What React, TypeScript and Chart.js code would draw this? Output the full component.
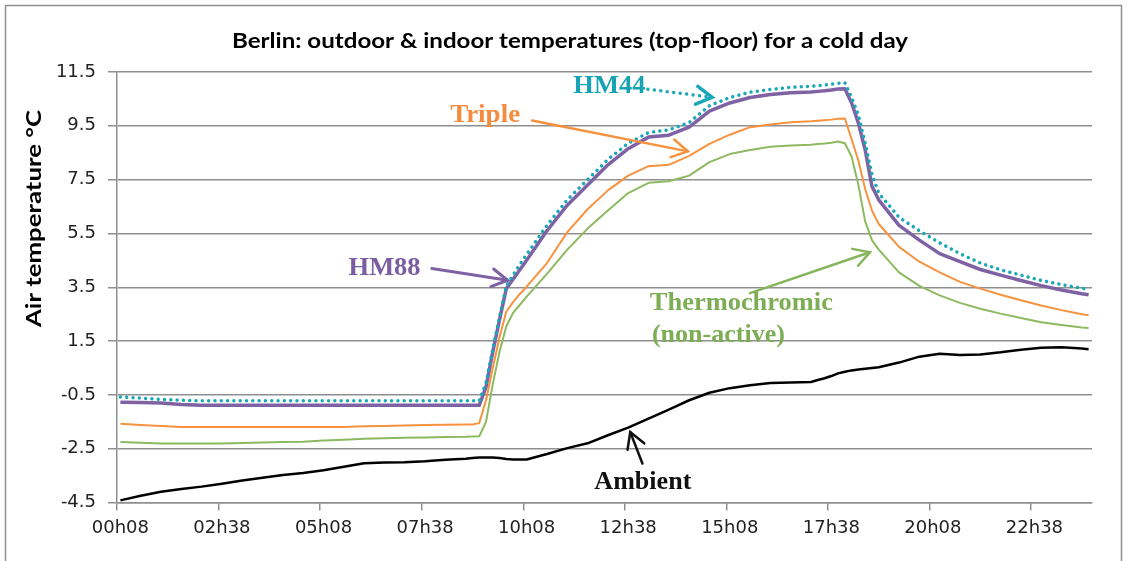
import React, { useEffect, useRef } from 'react';
import { Chart, registerables } from 'chart.js';

Chart.register(...registerables);

// Time of each sample, in minutes after midnight (00h08 = 8)
const timesMin = [
  8, 38, 68, 98, 128, 158, 188, 218, 248, 278, 308, 338, 368, 398, 428, 458, 488, 518,
  528, 538, 548, 558, 568, 578, 588, 598, 608,
  638, 668, 698, 728, 758, 788, 818, 848, 878, 908, 938, 968, 998, 1028,
  1038, 1048, 1058, 1068, 1078, 1088, 1098, 1108, 1118, 1128,
  1158, 1188, 1218, 1248, 1278, 1308, 1338, 1368, 1398, 1428, 1438,
];

const hm44 = [
  -0.58, -0.62, -0.67, -0.7, -0.72, -0.72, -0.72, -0.72, -0.72, -0.72, -0.72, -0.72, -0.72, -0.72, -0.72, -0.72, -0.72, -0.72,
  -0.72, -0.72, -0.05, 1.2, 2.4, 3.55, 3.95, 4.35, 4.72,
  5.8, 6.75, 7.5, 8.25, 8.85, 9.25, 9.35, 9.62, 10.25, 10.55, 10.75, 10.85, 10.93, 10.97,
  10.99, 11.02, 11.05, 11.08, 11.1, 10.55, 9.9, 8.85, 7.7, 7.0,
  6.1, 5.6, 5.15, 4.75, 4.4, 4.15, 3.95, 3.75, 3.6, 3.46, 3.42,
];

const hm88 = [
  -0.77, -0.78, -0.8, -0.86, -0.89, -0.89, -0.89, -0.89, -0.89, -0.89, -0.89, -0.89, -0.89, -0.89, -0.89, -0.89, -0.89, -0.89,
  -0.89, -0.89, -0.2, 1.1, 2.3, 3.45, 3.8, 4.15, 4.5,
  5.6, 6.55, 7.3, 8.05, 8.65, 9.08, 9.15, 9.45, 10.05, 10.35, 10.55, 10.66, 10.73, 10.76,
  10.78, 10.8, 10.83, 10.87, 10.88, 10.35, 9.6, 8.6, 7.25, 6.75,
  5.8, 5.25, 4.75, 4.45, 4.16, 3.95, 3.75, 3.56, 3.4, 3.26, 3.22,
];

const triple = [
  -1.57, -1.62, -1.66, -1.69, -1.69, -1.69, -1.69, -1.69, -1.69, -1.69, -1.69, -1.69, -1.67, -1.66, -1.64, -1.62, -1.61, -1.6,
  -1.6, -1.55, -0.7, 0.5, 1.65, 2.6, 2.95, 3.25, 3.52,
  4.4, 5.55, 6.4, 7.1, 7.65, 8.0, 8.05, 8.38, 8.83, 9.17, 9.45, 9.55, 9.63, 9.67,
  9.69, 9.71, 9.73, 9.76, 9.77, 9.0, 8.2, 7.15, 6.35, 5.85,
  5.0, 4.45, 4.05, 3.7, 3.45, 3.22, 3.02, 2.82, 2.65, 2.5, 2.46,
];

const thermochromic = [
  -2.25, -2.28, -2.31, -2.31, -2.31, -2.31, -2.29, -2.27, -2.25, -2.24, -2.2, -2.17, -2.13, -2.11, -2.09, -2.08, -2.07, -2.06,
  -2.05, -2.04, -1.5, -0.1, 1.1, 2.05, 2.55, 2.85, 3.15,
  4.0, 4.9, 5.68, 6.35, 7.0, 7.38, 7.44, 7.65, 8.15, 8.45, 8.6, 8.72, 8.77, 8.8,
  8.82, 8.84, 8.87, 8.92, 8.85, 8.35, 7.3, 5.95, 5.25, 4.9,
  4.05, 3.55, 3.2, 2.92, 2.7, 2.52, 2.36, 2.2, 2.1, 2.0, 1.99,
];

const ambient = [
  -4.42, -4.25, -4.1, -4.0, -3.91, -3.8, -3.68, -3.58, -3.48, -3.4, -3.3, -3.17, -3.04, -3.01, -3.0, -2.97, -2.91, -2.87,
  -2.85, -2.83, -2.83, -2.83, -2.85, -2.88, -2.9, -2.9, -2.9,
  -2.7, -2.48, -2.3, -2.0, -1.72, -1.38, -1.05, -0.7, -0.42, -0.25, -0.14, -0.06, -0.04, -0.02,
  0.05, 0.12, 0.2, 0.3, 0.36, 0.41, 0.44, 0.47, 0.5, 0.53,
  0.7, 0.92, 1.03, 0.98, 1.0, 1.08, 1.18, 1.25, 1.27, 1.22, 1.2,
];

// Axis ticks
const xTickMinutes = [3, 153, 303, 453, 603, 753, 903, 1053, 1203, 1353];
const xTickLabels = ['00h08', '02h38', '05h08', '07h38', '10h08', '12h38', '15h08', '17h38', '20h08', '22h38'];
const yTicks = [-4.5, -2.5, -0.5, 1.5, 3.5, 5.5, 7.5, 9.5, 11.5];

const chartTitle = 'Berlin: outdoor & indoor temperatures (top-floor) for a cold day';
const yAxisTitle = 'Air temperature \u00B0C';

// Text annotations: anchor (minutes, °C) = left edge / baseline
const annotationTexts = ['HM44', 'Triple', 'HM88', 'Thermochromic', '(non-active)', 'Ambient'];
const annotationMinutes = [677, 495, 345, 790, 793, 708];
const annotationValues = [10.71, 9.64, 3.945, 2.644, 1.455, -3.98];
const annotationWidths = [72, 70, 72, 183, 133, 97];
const annotationColors = ['#17A3B4', '#F58B3E', '#7B5EA1', '#7DAD55', '#7DAD55', '#111111'];

// Arrows: start and tip in (minutes, °C)
const arrowFromMin = [787, 616, 468, 938, 779];
const arrowFromVal = [10.86, 9.7, 4.2, 3.28, -3.05];
const arrowToMin = [882, 846, 580, 1115, 761];
const arrowToVal = [10.56, 8.55, 3.76, 4.8, -1.88];
const arrowColors = ['#1AA8B9', '#F7923F', '#7F62A3', '#86B55B', '#111111'];
const arrowWidths = [3.5, 2.5, 3, 2.5, 2.5];
const arrowDotted = [true, false, false, false, false];

const toPoints = (vals: number[]) => timesMin.map((t, i) => ({ x: t, y: vals[i] }));

function fitText(ctx: CanvasRenderingContext2D, text: string, x: number, y: number, width: number) {
  const w = ctx.measureText(text).width;
  ctx.save();
  ctx.translate(x, y);
  ctx.scale(width / w, 1);
  ctx.fillText(text, 0, 0);
  ctx.restore();
}

const decorPlugin = {
  id: 'decor',
  afterDraw(chart: any) {
    const ctx: CanvasRenderingContext2D = chart.ctx;
    const xs = chart.scales.x;
    const ys = chart.scales.y;

    // chart-area border
    ctx.save();
    ctx.strokeStyle = '#8f8f8f';
    ctx.lineWidth = 1.5;
    ctx.strokeRect(5.5, 5.5, 1116, 600);
    ctx.restore();

    // title
    ctx.save();
    ctx.fillStyle = '#000';
    ctx.font = 'bold 20px Lato';
    ctx.textBaseline = 'alphabetic';
    fitText(ctx, chartTitle, 232, 48, 676);
    ctx.restore();

    // y axis title
    ctx.save();
    ctx.fillStyle = '#000';
    ctx.font = 'bold 20px Lato';
    ctx.textBaseline = 'middle';
    ctx.translate(35, 327);
    ctx.rotate(-Math.PI / 2);
    fitText(ctx, yAxisTitle, 0, 0, 217);
    ctx.restore();

    // arrows
    for (let i = 0; i < arrowFromMin.length; i++) {
      const x1 = xs.getPixelForValue(arrowFromMin[i]);
      const y1 = ys.getPixelForValue(arrowFromVal[i]);
      const x2 = xs.getPixelForValue(arrowToMin[i]);
      const y2 = ys.getPixelForValue(arrowToVal[i]);
      ctx.save();
      ctx.strokeStyle = arrowColors[i];
      ctx.lineWidth = arrowWidths[i];
      ctx.lineCap = 'round';
      if (arrowDotted[i]) ctx.setLineDash([0.01, 6.5]);
      ctx.beginPath();
      ctx.moveTo(x1, y1);
      ctx.lineTo(x2, y2);
      ctx.stroke();
      ctx.setLineDash([]);
      const ang = Math.atan2(y2 - y1, x2 - x1);
      const L = 18;
      const a = 0.52;
      ctx.beginPath();
      ctx.moveTo(x2 - L * Math.cos(ang - a), y2 - L * Math.sin(ang - a));
      ctx.lineTo(x2, y2);
      ctx.lineTo(x2 - L * Math.cos(ang + a), y2 - L * Math.sin(ang + a));
      ctx.stroke();
      ctx.restore();
    }

    // annotation texts
    for (let i = 0; i < annotationTexts.length; i++) {
      ctx.save();
      ctx.fillStyle = annotationColors[i];
      ctx.font = 'bold 25px "Liberation Serif"';
      ctx.textBaseline = 'alphabetic';
      fitText(ctx, annotationTexts[i], xs.getPixelForValue(annotationMinutes[i]), ys.getPixelForValue(annotationValues[i]), annotationWidths[i]);
      ctx.restore();
    }
  },
};

export default function App() {
  const ref = useRef<HTMLCanvasElement>(null);

  useEffect(() => {
    document.body.style.margin = '0';
    const gridColor = '#8f8f8f';
    const tickFont = { family: '"DejaVu Sans"', size: 18 };
    const chart = new Chart(ref.current as HTMLCanvasElement, {
      type: 'line',
      data: {
        datasets: [
          {
            label: 'HM44',
            data: toPoints(hm44),
            borderColor: '#1AA8B9',
            borderWidth: 3.5,
            borderDash: [0.01, 6.3],
            borderCapStyle: 'round',
          },
          {
            label: 'HM88',
            data: toPoints(hm88),
            borderColor: '#7F62A3',
            borderWidth: 3.5,
          },
          {
            label: 'Triple',
            data: toPoints(triple),
            borderColor: '#F7923F',
            borderWidth: 2,
          },
          {
            label: 'Thermochromic (non-active)',
            data: toPoints(thermochromic),
            borderColor: '#8DB960',
            borderWidth: 2,
          },
          {
            label: 'Ambient',
            data: toPoints(ambient),
            borderColor: '#000000',
            borderWidth: 2.5,
          },
        ],
      } as any,
      options: {
        animation: false,
        responsive: true,
        maintainAspectRatio: false,
        layout: { padding: { top: 72, right: 38, left: 0, bottom: 0 } },
        elements: { point: { radius: 0 }, line: { tension: 0, borderJoinStyle: 'round' } },
        plugins: {
          legend: { display: false },
          tooltip: { enabled: false },
          title: { display: false },
        },
        scales: {
          x: {
            type: 'linear',
            min: 3,
            max: 1443,
            afterBuildTicks: (s: any) => {
              s.ticks = xTickMinutes.map((v) => ({ value: v }));
            },
            afterFit: (s: any) => {
              s.height = 58.5;
            },
            grid: { drawOnChartArea: false, drawTicks: true, tickLength: 8, color: gridColor, lineWidth: 1.5 },
            border: { color: gridColor, width: 1.5 },
            ticks: {
              autoSkip: false,
              maxRotation: 0,
              labelOffset: 3.4,
              padding: 7,
              color: '#222222',
              font: tickFont,
              callback: (_v: any, i: number) => xTickLabels[i],
            },
          },
          y: {
            type: 'linear',
            min: -4.5,
            max: 11.5,
            afterBuildTicks: (s: any) => {
              s.ticks = yTicks.map((v) => ({ value: v }));
            },
            afterFit: (s: any) => {
              s.width = 117;
            },
            grid: { color: gridColor, lineWidth: 1.5, tickLength: 9 },
            border: { color: gridColor, width: 1.5 },
            ticks: {
              padding: 12,
              color: '#222222',
              font: tickFont,
              callback: (v: any) => Number(v).toFixed(1),
            },
          },
        },
      } as any,
      plugins: [decorPlugin],
    });
    return () => chart.destroy();
  }, []);

  return (
    <div style={{ position: 'relative', width: 1130, height: 561, background: '#fff' }}>
      <canvas ref={ref} />
    </div>
  );
}
